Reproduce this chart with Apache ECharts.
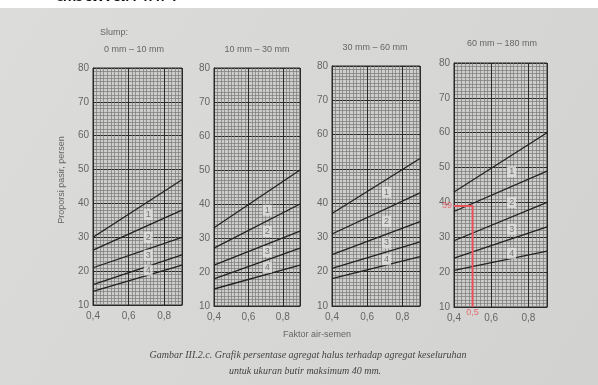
<!DOCTYPE html>
<html><head><meta charset="utf-8">
<script src="https://cdn.jsdelivr.net/npm/echarts@6/dist/echarts.min.js"></script>
<style>html,body{margin:0;padding:0;background:#fff;}#c{width:598px;height:385px;}</style>
</head><body><div id="c"></div>
<script>
// ---- data ----
const slumpTitles = ['0 mm \u2013 10 mm', '10 mm \u2013 30 mm', '30 mm \u2013 60 mm', '60 mm \u2013 180 mm'];
const xTickValues = [0.4, 0.6, 0.8];
const xTickLabels = ['0,4', '0,6', '0,8'];
const wcEnds = [0.4, 0.9];           // faktor air-semen at the line ends
const zoneNames = ['1', '2', '3', '4'];
const zoneLabelX = 0.71;
// boundary lines (value at 0.4, value at 0.9), top to bottom
const panel1Lines = [[30, 47], [26.2, 38], [21, 30], [16, 24.8], [14, 21.8]];
const panel2Lines = [[33, 50], [27, 40], [22, 32], [18, 27], [15, 22]];
const panel3Lines = [[37, 53], [31, 43], [25, 34.6], [21, 28.7], [18, 24.4]];
const panel4Lines = [[43, 60], [37.4, 49], [29, 40], [24, 33], [20.5, 26]];
const panel1ZoneY = [36.7, 30, 24.7, 20.3];
const panel2ZoneY = [38.2, 31.9, 26, 21.3];
const panel3ZoneY = [43.2, 34.6, 28.4, 23.5];
const panel4ZoneY = [48.8, 40, 32.3, 25.4];
const readX = 0.5, readY = 39;       // red reading on the 4th panel
const readLabels = ['39', '0,5'];

// ---- layout ----
const panels = [
  {lines: panel1Lines, zones: panel1ZoneY, left: 93, right: 182, top: 68, bottom: 305, tx: 134, ty: 50},
  {lines: panel2Lines, zones: panel2ZoneY, left: 214, right: 300, top: 68, bottom: 306, tx: 257, ty: 50},
  {lines: panel3Lines, zones: panel3ZoneY, left: 332, right: 420, top: 66, bottom: 306, tx: 375, ty: 48},
  {lines: panel4Lines, zones: panel4ZoneY, left: 454, right: 547, top: 63, bottom: 307, tx: 502, ty: 44}
];
const W = 598, H = 385;
const fine = '#7a7a78', heavy = '#2a2a2a', txt = '#666';

const grid = [], xAxis = [], yAxis = [], series = [];
panels.forEach((p, i) => {
  grid.push({left: p.left, top: p.top, width: p.right - p.left, height: p.bottom - p.top,
    show: true, backgroundColor: '#cdcdcb', borderColor: heavy, borderWidth: 1});
  // fine vertical grid
  xAxis.push({type: 'value', gridIndex: i, position: 'bottom', min: 0.4, max: 0.9, interval: 0.02,
    axisLine: {show: false}, axisTick: {show: false}, axisLabel: {show: false},
    splitLine: {show: true, lineStyle: {color: fine, width: 0.7}}});
  // main x axis
  xAxis.push({type: 'value', gridIndex: i, position: 'bottom', min: 0.4, max: 0.9, interval: 0.2,
    axisLine: {show: true, onZero: false, lineStyle: {color: heavy, width: 1}},
    axisTick: {show: false},
    axisLabel: {color: txt, fontSize: 10, fontFamily: 'Liberation Sans', margin: 6,
      formatter: v => { const k = xTickValues.findIndex(t => Math.abs(t - v) < 1e-6); return k >= 0 ? xTickLabels[k] : ''; }},
    splitLine: {show: true, lineStyle: {color: heavy, width: 1}}});
  yAxis.push({type: 'value', gridIndex: i, min: 10, max: 80, interval: 10,
    axisLine: {show: true, lineStyle: {color: heavy, width: 1}},
    axisTick: {show: false},
    axisLabel: {color: txt, fontSize: 10, fontFamily: 'Liberation Sans', margin: 4},
    splitLine: {show: true, lineStyle: {color: heavy, width: 1}},
    minorTick: {show: false, splitNumber: 10},
    minorSplitLine: {show: true, lineStyle: {color: fine, width: 0.7}}});
  p.lines.forEach(l => {
    series.push({type: 'line', xAxisIndex: 2 * i + 1, yAxisIndex: i, symbol: 'none', silent: true,
      lineStyle: {color: '#222', width: 1.3}, z: 5,
      data: [[wcEnds[0], l[0]], [wcEnds[1], l[1]]]});
  });
  series.push({type: 'scatter', xAxisIndex: 2 * i + 1, yAxisIndex: i, symbolSize: 0, z: 6,
    data: p.zones.map((y, k) => [zoneLabelX, y, zoneNames[k]]),
    label: {show: true, position: 'inside', formatter: d => d.value[2], color: '#5a5a5a', fontSize: 9,
      fontFamily: 'Liberation Sans', backgroundColor: '#e2e2e0', padding: [1, 2]}});
});
// red reading on panel 4
series.push({type: 'line', xAxisIndex: 7, yAxisIndex: 3, symbol: 'none', z: 7,
  lineStyle: {color: '#e8525a', width: 2},
  data: [[0.4, readY], [readX, readY], [readX, 10]]});
series.push({type: 'scatter', xAxisIndex: 7, yAxisIndex: 3, symbolSize: 0, z: 8,
  data: [
    {value: [0.4, readY], name: readLabels[0], label: {position: 'left', distance: 2}},
    {value: [readX, 10], name: readLabels[1], label: {position: 'bottom', distance: 1}}
  ],
  label: {show: true, formatter: d => d.name, color: '#e8525a', fontSize: 9, fontFamily: 'Liberation Sans'}});

const t = (x, y, text, style) => ({type: 'text', x, y, silent: true,
  style: Object.assign({text, fill: txt, fontSize: 9, fontFamily: 'Liberation Sans', align: 'center', verticalAlign: 'middle'}, style)});

const graphic = [
  {type: 'rect', shape: {x: 0, y: 8, width: W, height: H - 8}, z: -10, silent: true,
    style: {fill: {type: 'linear', x: 0, y: 0, x2: 1, y2: 1, colorStops: [{offset: 0, color: '#dcdcda'}, {offset: 1, color: '#d2d2d0'}]}}},
  {type: 'text', x: 55, y: -16, silent: true, z: 10,
    style: {text: 'dibawah ini :', fill: '#111', fontSize: 22, fontFamily: 'Liberation Sans', align: 'left', verticalAlign: 'top'}},
  t(100, 33, 'Slump:', {align: 'left'}),
  {type: 'text', x: 62, y: 180, rotation: Math.PI / 2, silent: true,
    style: {text: 'Proporsi pasir, persen', fill: txt, fontSize: 9, fontFamily: 'Liberation Sans', align: 'center', verticalAlign: 'middle'}},
  t(317, 335, 'Faktor air-semen', {}),
  t(308, 355, 'Gambar III.2.c. Grafik persentase agregat halus terhadap agregat keseluruhan', {fill: '#444', fontSize: 10, fontStyle: 'italic', fontFamily: 'Liberation Serif'}),
  t(305, 371, 'untuk ukuran butir maksimum 40 mm.', {fill: '#444', fontSize: 10, fontStyle: 'italic', fontFamily: 'Liberation Serif'})
];
panels.forEach((p, i) => graphic.push(t(p.tx, p.ty, slumpTitles[i], {})));

const chart = echarts.init(document.getElementById('c'), null, {renderer: 'canvas'});
chart.setOption({backgroundColor: '#fff', animation: false, grid, xAxis, yAxis, series, graphic});
</script></body></html>
